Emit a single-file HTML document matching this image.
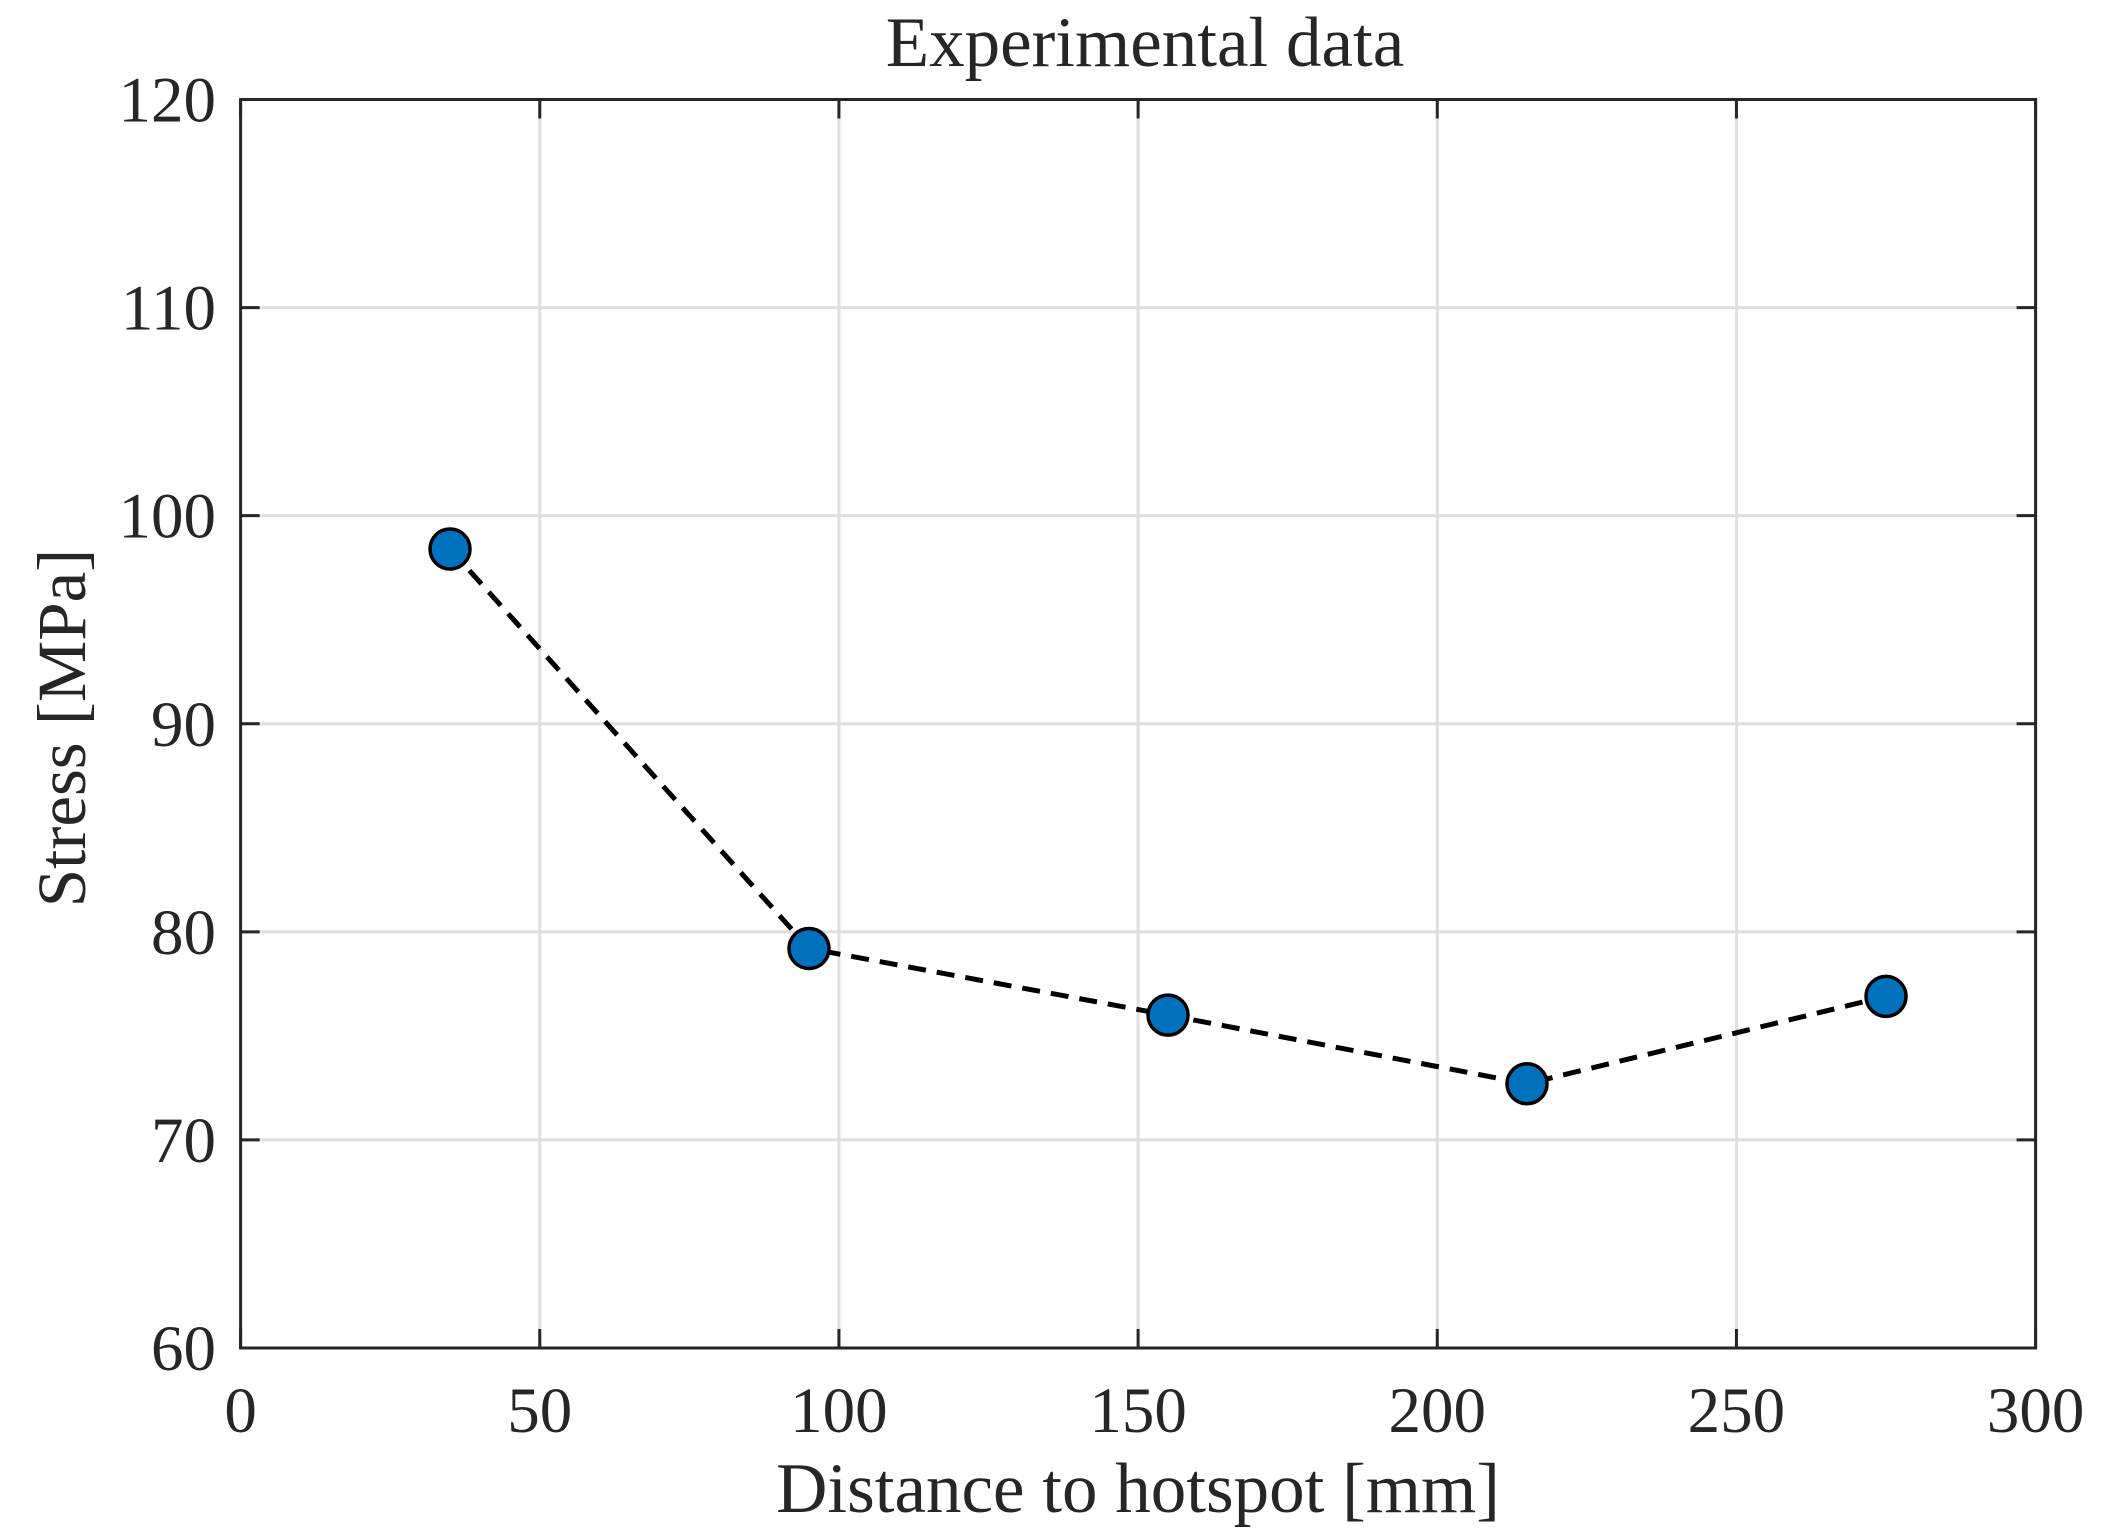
<!DOCTYPE html>
<html><head><meta charset="utf-8"><style>
html,body{margin:0;padding:0;background:#fff;}
svg{display:block;}
text{font-family:"Liberation Serif",serif;fill:#262626;}
</style></head><body>
<svg id="chart" width="2113" height="1539" viewBox="0 0 2113 1539" xmlns="http://www.w3.org/2000/svg">
<rect width="2113" height="1539" fill="#fff"/>
<g id="grid"></g>
<g id="series"></g>
<g id="axes"></g>
<text x="1145" y="66" font-size="71" text-anchor="middle">Experimental data</text>
<text x="1138" y="1512" font-size="71" text-anchor="middle">Distance to hotspot [mm]</text>
<text x="0" y="0" font-size="69" text-anchor="middle" transform="translate(85,728) rotate(-90)">Stress [MPa]</text>
</svg>
<script>
const xTicks=[0,50,100,150,200,250,300];
const yTicks=[60,70,80,90,100,110,120];
const distances=[35,95,155,215,275];
const stresses=[98.4,79.2,76.0,72.7,76.9];
const L=240.6,R=2035.6,T=99.5,B=1348;
const xs=v=>L+(v-0)/(300-0)*(R-L);
const ys=v=>B-(v-60)/(120-60)*(B-T);
const NS="http://www.w3.org/2000/svg";
function mk(tag,attrs,parent){const e=document.createElementNS(NS,tag);for(const k in attrs)e.setAttribute(k,attrs[k]);parent.appendChild(e);return e;}
const grid=document.getElementById('grid'),axes=document.getElementById('axes'),ser=document.getElementById('series');
xTicks.forEach(t=>{
  const x=xs(t);
  if(t>0&&t<300){const g=mk('line',{x1:x,x2:x,y1:T,y2:B,stroke:'#dfdfdf','stroke-width':3},grid);
  
  }
  const a=mk('line',{x1:x,x2:x,y1:B,y2:B-19,stroke:'#262626','stroke-width':3},axes);
  
  
  const b=mk('line',{x1:x,x2:x,y1:T,y2:T+19,stroke:'#262626','stroke-width':3},axes);
  
  
  const tx=mk('text',{x:x,y:1432,'font-size':65,'text-anchor':'middle'},axes);
  tx.textContent=t;
  
  
});
yTicks.forEach(t=>{
  const y=ys(t);
  if(t>60&&t<120){const g=mk('line',{x1:L,x2:R,y1:y,y2:y,stroke:'#dfdfdf','stroke-width':3},grid);
  
  }
  const a=mk('line',{x1:L,x2:L+19,y1:y,y2:y,stroke:'#262626','stroke-width':3},axes);
  
  
  const b=mk('line',{x1:R,x2:R-19,y1:y,y2:y,stroke:'#262626','stroke-width':3},axes);
  
  
  const tx=mk('text',{x:216,y:y+22,'font-size':65,'text-anchor':'end'},axes);
  tx.textContent=t;
  
  
});
const box=mk('rect',{x:L,y:T,width:R-L,height:B-T,fill:'none',stroke:'#262626','stroke-width':3},axes);


const pts=distances.map((d,i)=>xs(d)+','+ys(stresses[i])).join(' ');
const line=mk('polyline',{points:pts,fill:'none',stroke:'#000','stroke-width':5,'stroke-dasharray':'18,11'},ser);


distances.forEach((d,i)=>{
  const c=mk('circle',{cx:xs(d),cy:ys(stresses[i]),r:20,fill:'#0072bd',stroke:'#000','stroke-width':3.5},ser);
  
  
});
</script>
</body></html>
